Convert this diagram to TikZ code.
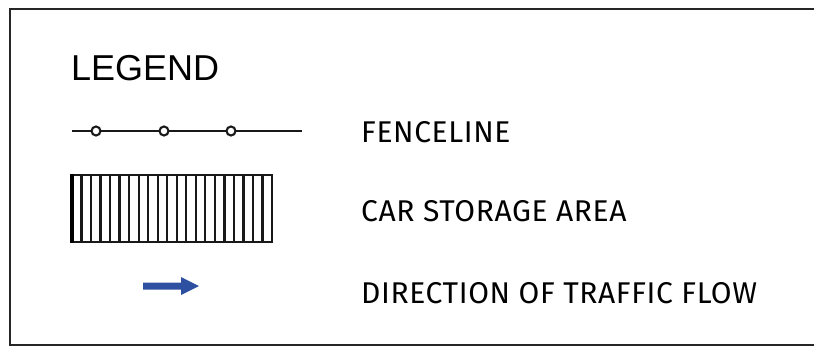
\documentclass[tikz,border=0pt]{standalone}
\usepackage{fontspec}
\setmainfont{Liberation Sans}
\newfontfamily\labfont[LetterSpace=2]{Fira Sans}
\definecolor{arrowblue}{RGB}{46,80,160}
\begin{document}
\begin{tikzpicture}[x=1pt,y=-1pt,
  frame/.style={line width=2.4pt,draw=black!85},
  fence/.style={line width=2.4pt,draw=black!90},
  post/.style={circle,draw=black!90,line width=2.1pt,fill=white,minimum size=9pt,inner sep=0pt},
  stripe/.style={line width=2.3pt,draw=black!90},
  labeltext/.style={anchor=base west,inner sep=0pt,font=\labfont\fontsize{30}{30}\selectfont},
  titletext/.style={anchor=base west,inner sep=0pt,font=\fontsize{36}{36}\selectfont}]
\useasboundingbox (0,0) rectangle (814,348);
% frame (open on right)
\draw[frame] (816,9) -- (10,9) -- (10,345) -- (816,345);
\node[titletext] (title) at (71,80) {LEGEND};
% fenceline
\coordinate (f1) at (72,131);
\coordinate (f2) at (302,131);
\draw[fence] (f1) -- (f2);
\node[post] (p1) at (96,131) {};
\node[post] (p2) at (164,131) {};
\node[post] (p3) at (231,131) {};
% car storage
\draw[stripe] (72,175) rectangle (272,242);
\draw[line width=3.6pt] (72,173.9) -- (72,243.1);
\foreach \i in {1,...,20} {
  \draw[stripe] ({72+\i*200/21},175) -- ({72+\i*200/21},242);
}
% arrow
\fill[arrowblue] (143,282.5) -- (181,282.5) -- (181,277) -- (199,286) -- (181,295) -- (181,289.5) -- (143,289.5) -- cycle;
\node[labeltext] (l1) at (361,142) {FENCELINE};
\node[labeltext] (l2) at (361,221) {CAR STORAGE AREA};
\node[labeltext] (l3) at (361,303) {DIRECTION OF TRAFFIC FLOW};
\end{tikzpicture}
\end{document}
